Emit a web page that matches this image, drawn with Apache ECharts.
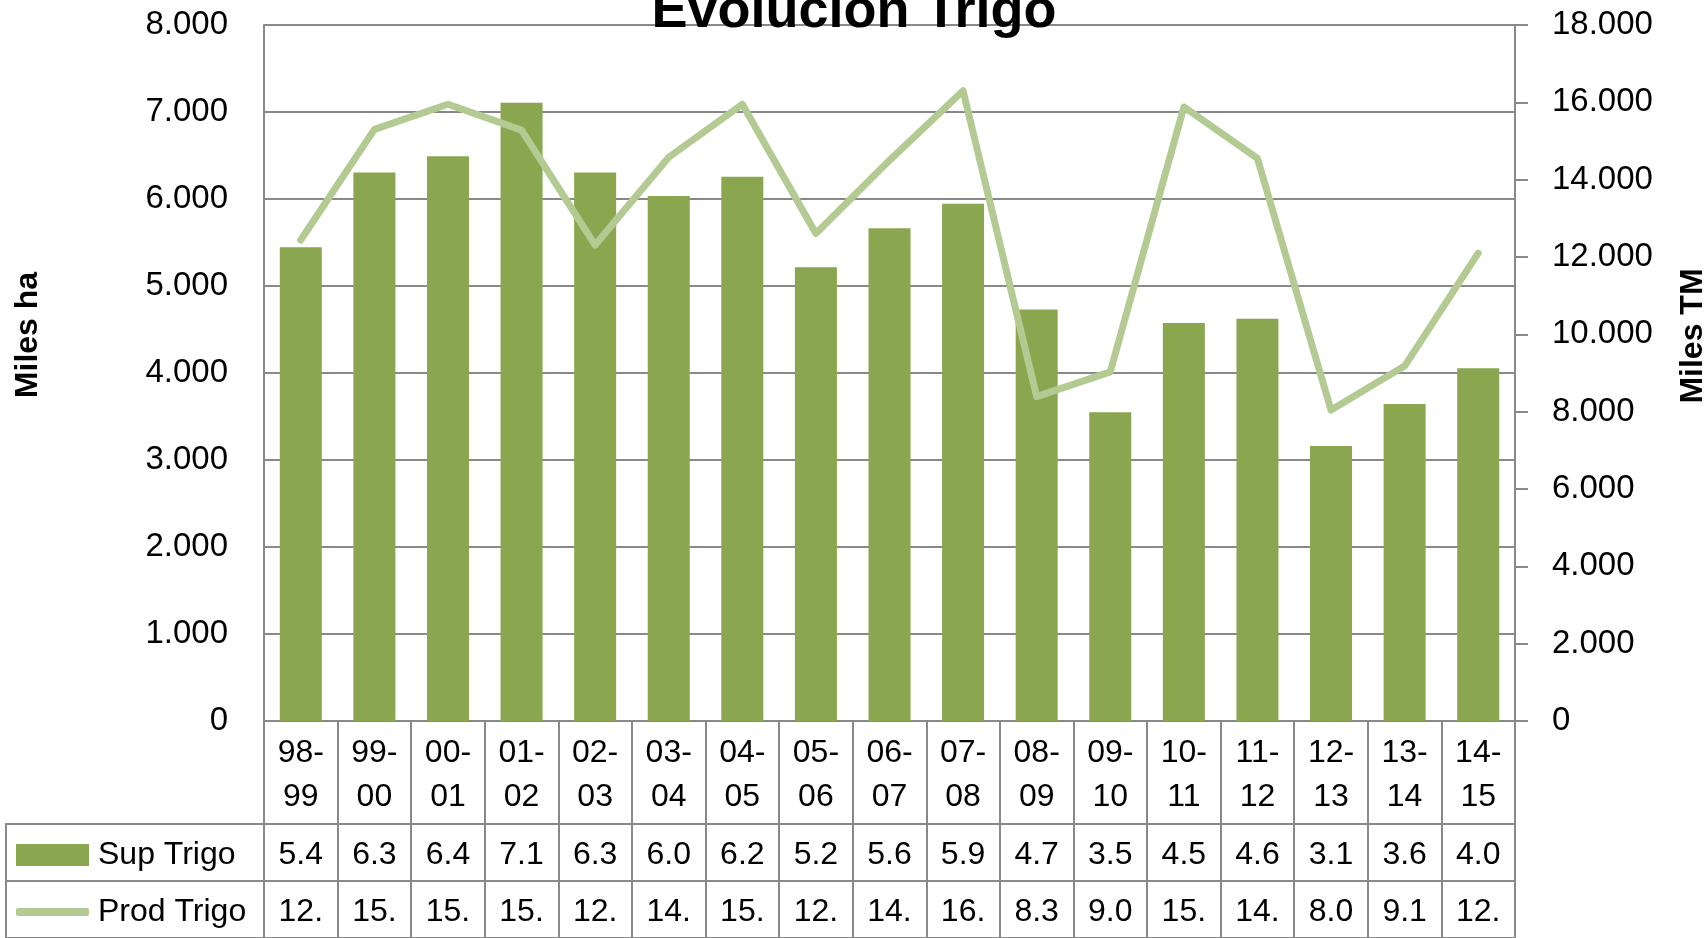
<!DOCTYPE html>
<html>
<head>
<meta charset="utf-8">
<title>Evolución Trigo</title>
<script src="https://cdn.jsdelivr.net/npm/echarts@6/dist/echarts.min.js"></script>
<style>
  html, body { margin: 0; padding: 0; background: #fff; }
  #chart { width: 1708px; height: 938px; }
</style>
</head>
<body>
<div id="chart"></div>
<script>
// campañas
const categories = ['98-99', '99-00', '00-01', '01-02', '02-03', '03-04', '04-05', '05-06', '06-07',
  '07-08', '08-09', '09-10', '10-11', '11-12', '12-13', '13-14', '14-15'];
// Miles ha
const supTrigo = [5445, 6305, 6490, 7105, 6305, 6035, 6255, 5215, 5665, 5945, 4730, 3550, 4575, 4625, 3160, 3645, 4055];
// Miles TM
const prodTrigo = [12440, 15300, 15950, 15280, 12310, 14580, 15950, 12610, 14500, 16300, 8390, 9030, 15880, 14550, 8040, 9180, 12100];
const tableRows = ['Sup Trigo', 'Prod Trigo'];
const leftTicks = [0, 1000, 2000, 3000, 4000, 5000, 6000, 7000, 8000];
const rightTicks = [0, 2000, 4000, 6000, 8000, 10000, 12000, 14000, 16000, 18000];

const FONT = 'Liberation Sans';
const GRAY = '#898989';
const BAR = '#8aa64f';
const LINE = '#b3ca93';

const fmt = v => String(v).replace(/\B(?=(\d{3})+(?!\d))/g, '.');

const tableData = [];
categories.forEach((c, i) => {
  tableData.push([i, 0, supTrigo[i]]);
  tableData.push([i, 1, prodTrigo[i]]);
});

const chart = echarts.init(document.getElementById('chart'));
const option = {
  animation: false,
  textStyle: { fontFamily: FONT },
  title: {
    text: 'Evolución Trigo',
    left: 'center',
    top: -15,
    padding: 0,
    textStyle: { fontFamily: FONT, fontSize: 54, fontWeight: 'bold', color: '#000' }
  },
  legend: [
    {
      data: [{ name: 'Sup Trigo', icon: 'rect' }],
      left: 16, top: 839, padding: 0,
      itemWidth: 73, itemHeight: 22, selectedMode: false,
      textStyle: { fontFamily: FONT, fontSize: 32, color: '#000', padding: [0, 0, 0, 4] }
    },
    {
      data: [{ name: 'Prod Trigo', icon: 'roundRect' }],
      left: 16, top: 896, padding: 0,
      itemWidth: 73, itemHeight: 8, selectedMode: false,
      itemStyle: { color: LINE },
      textStyle: { fontFamily: FONT, fontSize: 32, color: '#000', padding: [0, 0, 0, 4] }
    }
  ],
  grid: [
    { left: 264, right: 193, top: 25, bottom: 217 },
    { left: 264, right: 193, top: 824, height: 114 }
  ],
  xAxis: [
    {
      type: 'category', gridIndex: 0, data: categories,
      axisLine: { lineStyle: { color: GRAY, width: 2 } },
      axisTick: { show: true, interval: 0, length: 103, lineStyle: { color: GRAY, width: 2 } },
      axisLabel: {
        interval: 0, margin: 10, color: '#000', fontFamily: FONT, fontSize: 32, lineHeight: 44,
        formatter: v => v.replace('-', '-\n')
      }
    },
    {
      type: 'category', gridIndex: 1, data: categories, position: 'top',
      axisLine: { lineStyle: { color: GRAY, width: 2 } },
      axisTick: { show: false },
      axisLabel: { show: false },
      splitLine: { show: true, interval: 0, lineStyle: { color: GRAY, width: 2 } }
    }
  ],
  yAxis: [
    {
      type: 'value', gridIndex: 0,
      min: leftTicks[0], max: leftTicks[leftTicks.length - 1], interval: leftTicks[1] - leftTicks[0],
      axisLine: { show: true, lineStyle: { color: GRAY, width: 2 } },
      axisTick: { show: false },
      axisLabel: { margin: 36, color: '#000', fontFamily: FONT, fontSize: 33, formatter: fmt },
      splitLine: { lineStyle: { color: GRAY, width: 2 } }
    },
    {
      type: 'value', gridIndex: 0, position: 'right',
      min: rightTicks[0], max: rightTicks[rightTicks.length - 1], interval: rightTicks[1] - rightTicks[0],
      axisLine: { show: true, lineStyle: { color: GRAY, width: 2 } },
      axisTick: { show: true, length: 13, lineStyle: { color: GRAY, width: 2 } },
      axisLabel: { margin: 37, color: '#000', fontFamily: FONT, fontSize: 33, formatter: fmt },
      splitLine: { show: false }
    },
    {
      type: 'category', gridIndex: 1, data: tableRows, inverse: true,
      axisLine: { show: true, lineStyle: { color: GRAY, width: 2 } },
      axisTick: { show: true, interval: 0, length: 258.5, lineStyle: { color: GRAY, width: 2 } },
      axisLabel: { show: false },
      splitLine: { show: true, interval: 0, lineStyle: { color: GRAY, width: 2 } }
    },
    {
      type: 'category', gridIndex: 1, data: tableRows, inverse: true, position: 'left', offset: 258.5,
      axisLine: { show: true, lineStyle: { color: GRAY, width: 2 } },
      axisTick: { show: false },
      axisLabel: { show: false }
    }
  ],
  graphic: [
    {
      type: 'text', x: 28, y: 335, rotation: Math.PI / 2,
      style: { text: 'Miles ha', fontFamily: FONT, fontSize: 32, fontWeight: 'bold', fill: '#000',
        align: 'center', verticalAlign: 'middle' }
    },
    {
      type: 'text', x: 1693, y: 336, rotation: Math.PI / 2,
      style: { text: 'Miles TM', fontFamily: FONT, fontSize: 32, fontWeight: 'bold', fill: '#000',
        align: 'center', verticalAlign: 'middle' }
    }
  ],
  series: [
    {
      name: 'Sup Trigo', type: 'bar', xAxisIndex: 0, yAxisIndex: 0,
      data: supTrigo, barWidth: 42,
      itemStyle: { color: BAR }
    },
    {
      name: 'Prod Trigo', type: 'line', xAxisIndex: 0, yAxisIndex: 1,
      data: prodTrigo, symbol: 'none', z: 5,
      lineStyle: { color: LINE, width: 7, cap: 'round', join: 'round' },
      itemStyle: { color: LINE }
    },
    {
      name: 'tabla', type: 'scatter', xAxisIndex: 1, yAxisIndex: 2,
      data: tableData, symbolSize: 1,
      itemStyle: { color: 'transparent', opacity: 1 },
      label: {
        show: true, position: 'inside', offset: [0, 3], color: '#000', opacity: 1,
        textBorderWidth: 0, fontFamily: FONT, fontSize: 32,
        formatter: p => fmt(p.value[2]).slice(0, 3)
      },
      silent: true
    }
  ]
};
chart.setOption(option);
</script>
</body>
</html>
